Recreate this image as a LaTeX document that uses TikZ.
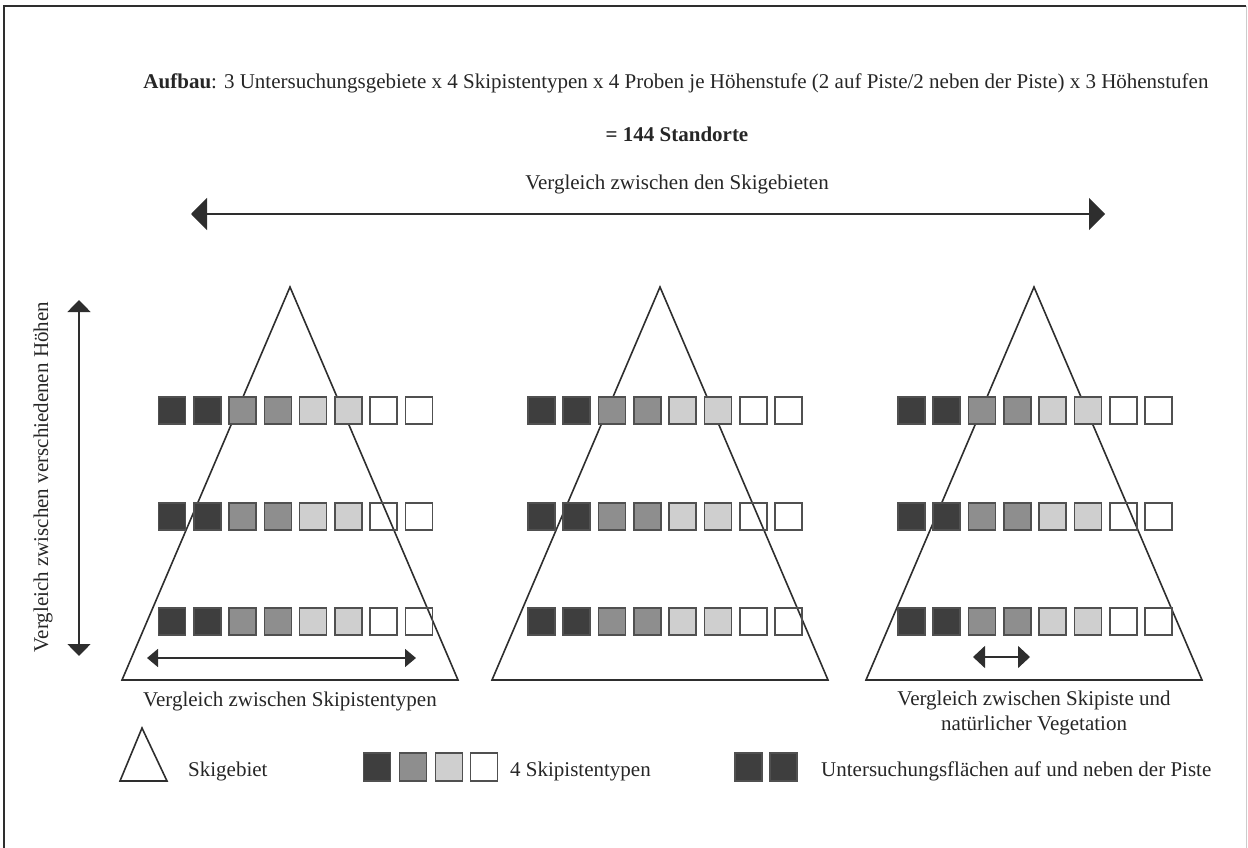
\documentclass[tikz,border=0pt]{standalone}
\usepackage{fontspec}
\setmainfont{Liberation Serif}
\usetikzlibrary{arrows.meta}
\definecolor{sqdark}{HTML}{3E3E3E}
\definecolor{sqmid}{HTML}{8E8E8E}
\definecolor{sqlight}{HTML}{CFCFCF}
\definecolor{linegray}{HTML}{2E2E2E}
\definecolor{sqedge}{HTML}{505050}
\definecolor{txt}{HTML}{262626}
\begin{document}
\begin{tikzpicture}[x=1pt,y=-1pt,
  every node/.style={text=txt},
  lbl/.style={font=\fontsize{21}{24.5}\selectfont, inner sep=0pt},
  sq/.style={draw=sqedge, line width=1.6pt, minimum size=27pt, inner sep=0pt},
  mount/.style={draw=linegray, line width=1.6pt, line join=miter},
]
\useasboundingbox (0,0) rectangle (1248,848);
% frame
\draw[linegray, line width=1.6pt] (4,848) -- (4,6) -- (1246,6);
\draw[gray!40, line width=0.6pt] (1246,6) -- (1246,848);

% heading texts
\node[lbl] (aufbau) at (676,83) {\textbf{Aufbau}: 3 Untersuchungsgebiete x 4 Skipistentypen x 4 Proben je Höhenstufe (2 auf Piste/2 neben der Piste) x 3 Höhenstufen};
\node[lbl] (total) at (677,134) {\textbf{= 144 Standorte}};
\node[lbl] (skigeb) at (677,184) {Vergleich zwischen den Skigebieten};

% top arrow
\coordinate (ta) at (191,214);
\coordinate (tb) at (1105,214);
\draw[draw=linegray, line width=2pt, {Triangle[length=16pt,width=32pt]}-{Triangle[length=16pt,width=32pt]}] (ta) -- (tb);

% vertical arrow
\coordinate (va) at (79,300);
\coordinate (vb) at (79,656);
\draw[draw=linegray, line width=1.6pt, {Triangle[length=12pt,width=23pt]}-{Triangle[length=12pt,width=23pt]}] (va) -- (vb);
\node[lbl, rotate=90] (hoehen) at (43,477) {Vergleich zwischen verschiedenen Höhen};

% mountains
\foreach \t/\ax in {1/290,2/660,3/1034}{
  \coordinate (apex\t) at (\ax,287);
  \coordinate (bl\t) at ({\ax-168},680);
  \coordinate (br\t) at ({\ax+168},680);
  \draw[mount] (apex\t) -- (br\t) -- (bl\t) -- cycle;
}

% squares
\foreach \t/\cx in {1/295.5,2/665,3/1035}{
  \foreach \r/\cy in {1/410.5,2/516.5,3/621.5}{
    \foreach \i/\col in {1/sqdark,2/sqdark,3/sqmid,4/sqmid,5/sqlight,6/sqlight}{
      \node[sq, fill=\col] (s\t\r\i) at ({\cx+(\i-4.5)*35.3},\cy) {};
    }
    \foreach \i in {7,8}{
      \node[sq] (s\t\r\i) at ({\cx+(\i-4.5)*35.3},\cy) {};
    }
  }
}

% inner arrows
\coordinate (ia) at (147,658);
\coordinate (ib) at (416,658);
\draw[draw=linegray, line width=1.6pt, {Triangle[length=11pt,width=18pt]}-{Triangle[length=11pt,width=18pt]}] (ia) -- (ib);
\coordinate (ja) at (973,657);
\coordinate (jb) at (1030,657);
\draw[draw=linegray, line width=1.6pt, {Triangle[length=12pt,width=22pt]}-{Triangle[length=12pt,width=22pt]}] (ja) -- (jb);

\node[lbl] (cmp1) at (290,701) {Vergleich zwischen Skipistentypen};
\node[lbl, align=center] (cmp3) at (1034,713) {Vergleich zwischen Skipiste und\\natürlicher Vegetation};

% legend
\coordinate (lapex) at (142,728);
\coordinate (lbl1) at (120,781);
\coordinate (lbr1) at (167,781);
\draw[mount] (lapex) -- (lbr1) -- (lbl1) -- cycle;
\node[lbl, anchor=west] (legski) at (188,771) {Skigebiet};

\node[sq, minimum width=27pt, minimum height=28pt, fill=sqdark] (lg1) at (377,767) {};
\node[sq, minimum width=27pt, minimum height=28pt, fill=sqmid] (lg2) at (413,767) {};
\node[sq, minimum width=27pt, minimum height=28pt, fill=sqlight] (lg3) at (449,767) {};
\node[sq, minimum width=27pt, minimum height=28pt] (lg4) at (484,767) {};
\node[lbl, anchor=west] (legtyp) at (510,771) {4 Skipistentypen};

\node[sq, minimum width=27pt, minimum height=28pt, fill=sqdark] (ld1) at (748.5,767) {};
\node[sq, minimum width=27pt, minimum height=28pt, fill=sqdark] (ld2) at (783.5,767) {};
\node[lbl, anchor=west] (legflaech) at (821,771) {Untersuchungsflächen auf und neben der Piste};
\end{tikzpicture}
\end{document}
